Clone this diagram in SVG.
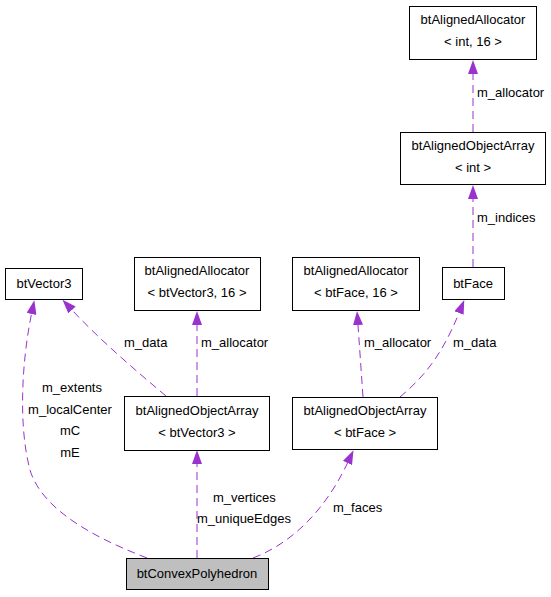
<svg xmlns="http://www.w3.org/2000/svg" width="551" height="597" viewBox="0 0 551 597">
<style>
.n rect{fill:#fff;stroke:#000;stroke-width:1}
.n.h rect{fill:#bfbfbf}
text{font-family:"Liberation Sans",Arial,sans-serif;font-size:13px;fill:#000}
.n text{text-anchor:middle}
.e path{fill:none;stroke:#9a32cd;stroke-width:1;stroke-dasharray:8,5}
</style>
<defs>
<marker id="a" markerUnits="userSpaceOnUse" markerWidth="14" markerHeight="10" viewBox="0 0 14 10" refX="0" refY="5" orient="auto">
<path d="M0,0 L14,5 L0,10 z" fill="#9a32cd" stroke="none"/>
</marker>
</defs>
<rect width="551" height="597" fill="#fff"/>
<g id="edges" class="e">
<path d="M147,558 C95,538 42,510 30,470 C18,425 22,360 31.5,314" marker-end="url(#a)"/>
<path d="M166,396 C135,370 100,340 72,310" marker-end="url(#a)"/>
<path d="M197,396 L197,325" marker-end="url(#a)"/>
<path d="M197,558 L197,464" marker-end="url(#a)"/>
<path d="M253,558 C300,540 330,500 347.5,463" marker-end="url(#a)"/>
<path d="M363,397 L358,325" marker-end="url(#a)"/>
<path d="M400,397 C420,380 440,360 459,313" marker-end="url(#a)"/>
<path d="M473,267 L473,199" marker-end="url(#a)"/>
<path d="M473,132 L473,74" marker-end="url(#a)"/>
</g>
<g id="labels">
<text x="72" y="392" text-anchor="middle">m_extents</text>
<text x="70" y="413.5" text-anchor="middle">m_localCenter</text>
<text x="70" y="435" text-anchor="middle">mC</text>
<text x="70" y="456.5" text-anchor="middle">mE</text>
<text x="124" y="347">m_data</text>
<text x="201" y="347">m_allocator</text>
<text x="364" y="347">m_allocator</text>
<text x="453" y="347">m_data</text>
<text x="477" y="97">m_allocator</text>
<text x="477" y="222">m_indices</text>
<text x="213" y="502">m_vertices</text>
<text x="197" y="523">m_uniqueEdges</text>
<text x="333" y="512">m_faces</text>
</g>
<g id="btAlignedAllocator_int" class="n"><rect x="409.5" y="6.5" width="127" height="53"/><text x="473" y="24">btAlignedAllocator</text><text x="473" y="46">&lt; int, 16 &gt;</text></g>
<g id="btAlignedObjectArray_int" class="n"><rect x="400.5" y="132.5" width="145" height="52"/><text x="473" y="150">btAlignedObjectArray</text><text x="473" y="172">&lt; int &gt;</text></g>
<g id="btFace" class="n"><rect x="442.5" y="267.5" width="62" height="32"/><text x="473" y="288">btFace</text></g>
<g id="btAlignedAllocator_btFace" class="n"><rect x="292.5" y="257.5" width="127" height="53"/><text x="356" y="275">btAlignedAllocator</text><text x="356" y="297">&lt; btFace, 16 &gt;</text></g>
<g id="btAlignedObjectArray_btFace" class="n"><rect x="292.5" y="397.5" width="145" height="52"/><text x="365" y="415">btAlignedObjectArray</text><text x="365" y="437">&lt; btFace &gt;</text></g>
<g id="btVector3" class="n"><rect x="5.5" y="268.5" width="77" height="31"/><text x="44" y="288">btVector3</text></g>
<g id="btAlignedAllocator_btVector3" class="n"><rect x="134.5" y="257.5" width="126" height="53"/><text x="197" y="275">btAlignedAllocator</text><text x="197" y="297">&lt; btVector3, 16 &gt;</text></g>
<g id="btAlignedObjectArray_btVector3" class="n"><rect x="124.5" y="396.5" width="145" height="54"/><text x="197" y="415">btAlignedObjectArray</text><text x="197" y="437">&lt; btVector3 &gt;</text></g>
<g id="btConvexPolyhedron" class="n h"><rect x="126.5" y="558.5" width="142" height="31"/><text x="197" y="578">btConvexPolyhedron</text></g>
</svg>
